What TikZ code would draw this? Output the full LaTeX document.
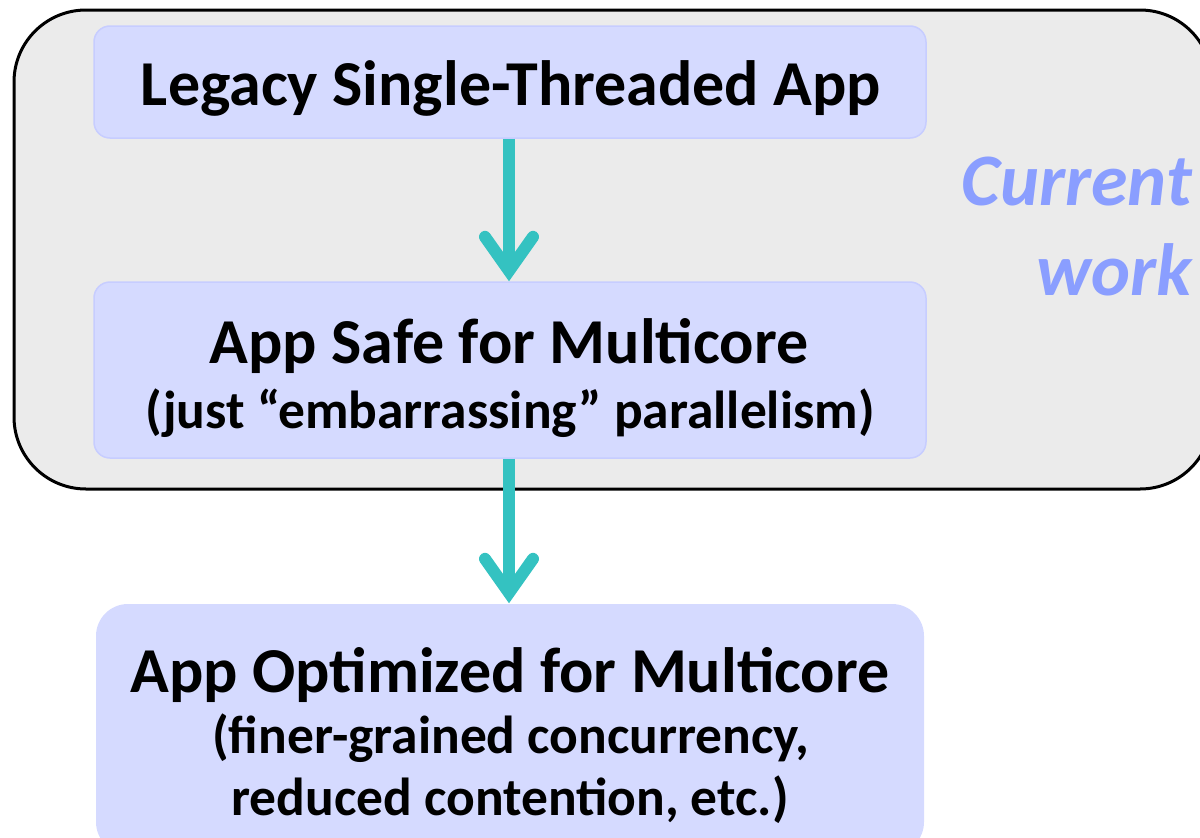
\documentclass[tikz,border=0pt]{standalone}
\usepackage{fontspec}
\setmainfont{Carlito}
\usetikzlibrary{arrows.meta}
\definecolor{greyfill}{RGB}{235,235,235}
\definecolor{boxfill}{RGB}{213,218,255}
\definecolor{boxline}{RGB}{199,205,255}
\definecolor{teal}{RGB}{52,194,193}
\definecolor{cwork}{RGB}{138,158,255}
\tikzset{
  stagebox/.style={fill=boxfill, draw=boxline, line width=1.5pt, rounded corners=16pt,
    minimum width=832pt, inner sep=0pt},
  maintext/.style={anchor=base, inner sep=0pt, font=\bfseries\fontsize{64}{70}\selectfont},
  subtext/.style={anchor=base, inner sep=0pt, font=\bfseries\fontsize{53.5}{60}\selectfont},
  cwtext/.style={anchor=base east, inner sep=0pt, text=cwork, font=\bfseries\itshape\fontsize{74}{80}\selectfont},
  flowarrow/.style={draw=teal, line width=12pt,
    -{Straight Barb[length=34pt, width=48pt, line cap=round, line join=miter]}},
}
\begin{document}
\begin{tikzpicture}[x=1pt, y=-1pt]
\useasboundingbox (0,0) rectangle (1200,838);
\begin{scope}
\clip (0,0) rectangle (1200,838);
\draw[fill=greyfill, line width=3pt, rounded corners=72pt] (14,10) rectangle (1212,489);
\end{scope}
\node[stagebox, minimum height=112pt] (legacy) at (510,82) {};
\node[stagebox, minimum height=176pt] (safe) at (510,370) {};
\begin{scope}
\clip (0,0) rectangle (1200,838);
\node[stagebox, draw=none, rounded corners=32pt, minimum width=828pt, minimum height=250pt] (opt) at (510,729) {};
\end{scope}
\node[maintext] (t1) at (511,105) {Legacy Single-Threaded App};
\node[maintext] (t2) at (509,363) {App Safe for Multicore};
\node[subtext] (t3) at (510,428) {(just “embarrassing” parallelism)};
\node[maintext] (t4) at (510,692) {App Optimized for Multicore};
\node[subtext] (t5) at (511,753) {(finer-grained concurrency,};
\node[subtext] (t6) at (510,815) {reduced contention, etc.)};
\node[cwtext] (cw1) at (1192,205) {Current};
\node[cwtext] (cw2) at (1192,295) {work};
\draw[flowarrow] (legacy.south -| 509,0) -- (safe.north -| 509,0);
\draw[flowarrow] (safe.south -| 509,0) -- (opt.north -| 509,0);
\end{tikzpicture}
\end{document}
